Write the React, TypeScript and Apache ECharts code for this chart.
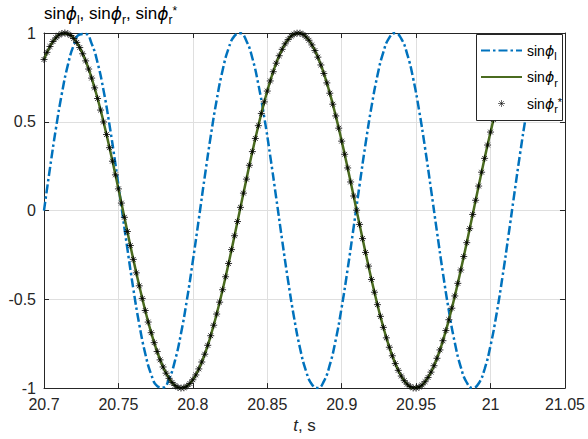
import React, { useEffect, useRef } from "react";
import * as echarts from "echarts";

// Sampling grid (s)
const T0 = 20.7;
const DT_L = 0.004;
const DT_R = 0.004;
const DT_R_STAR = 0.002;

// Axis ranges
const X_MIN = 20.7;
const X_MAX = 21.05;
const X_STEP = 0.05;
const Y_MIN = -1;
const Y_MAX = 1;
const Y_STEP = 0.5;

// sin(phi_l)
const sinPhiL = [
  0, 0.2375, 0.4615, 0.659, 0.8189, 0.9317, 0.9913, 0.9942, 0.9402, 0.8324,
  0.6768, 0.4825, 0.2607, 0.0239, -0.2142, -0.4401, -0.6406, -0.8047, -0.9227, -0.9879,
  -0.9965, -0.9481, -0.8454, -0.6942, -0.5035, -0.2838, -0.048, 0.1907, 0.4183, 0.6221,
  0.7904, 0.9133, 0.9839, 0.9982, 0.9554, 0.858, 0.7112, 0.524, 0.3067, 0.0718,
  -0.1671, -0.3965, -0.603, -0.7752, -0.9032, -0.9793, -0.9994, -0.9622, -0.8697, -0.7278,
  -0.5443, -0.3294, -0.0957, 0.1435, 0.3745, 0.5839, 0.7603, 0.8927, 0.9742, 0.9999,
  0.9685, 0.8815, 0.7444, 0.5643, 0.352, 0.1196, -0.1196, -0.352, -0.5644, -0.7445,
  -0.8815, -0.9685, -0.9999, -0.9741, -0.8926, -0.7601, -0.5837, -0.3743, -0.1433, 0.0958,
  0.3295, 0.5443, 0.728, 0.87,
];

// sin(phi_r)
const sinPhiR = [
  0.851, 0.924, 0.973, 0.997, 0.996, 0.969, 0.918, 0.843, 0.746, 0.631,
  0.499, 0.354, 0.201, 0.042, -0.118, -0.275, -0.424, -0.563, -0.688, -0.794,
  -0.881, -0.945, -0.985, -1.0, -0.989, -0.953, -0.892, -0.809, -0.705, -0.583,
  -0.446, -0.298, -0.142, 0.018, 0.177, 0.332, 0.478, 0.612, 0.73, 0.83,
  0.908, 0.963, 0.994, 0.999, 0.978, 0.933, 0.864, 0.772, 0.661, 0.533,
  0.391, 0.24, 0.082, -0.078, -0.236, -0.388, -0.53, -0.658, -0.77, -0.862,
  -0.932, -0.978, -0.999, -0.994, -0.964, -0.91, -0.832, -0.733, -0.615, -0.481,
  -0.335, -0.181, -0.022, 0.138, 0.294, 0.442, 0.58, 0.702, 0.807,
];

// sin(phi_r*)
const sinPhiRStar = [
  0.851, 0.891, 0.924, 0.952, 0.973, 0.988, 0.997, 1.0, 0.996, 0.986,
  0.969, 0.947, 0.918, 0.883, 0.843, 0.797, 0.746, 0.691, 0.631, 0.566,
  0.499, 0.428, 0.354, 0.278, 0.201, 0.122, 0.042, -0.038, -0.118, -0.197,
  -0.275, -0.351, -0.424, -0.495, -0.563, -0.628, -0.688, -0.744, -0.794, -0.841,
  -0.881, -0.916, -0.945, -0.968, -0.985, -0.996, -1.0, -0.998, -0.989, -0.974,
  -0.953, -0.926, -0.892, -0.853, -0.809, -0.759, -0.705, -0.646, -0.583, -0.516,
  -0.446, -0.373, -0.298, -0.22, -0.142, -0.062, 0.018, 0.098, 0.177, 0.255,
  0.332, 0.406, 0.478, 0.547, 0.612, 0.673, 0.73, 0.782, 0.83, 0.872,
  0.908, 0.939, 0.963, 0.982, 0.994, 0.999, 0.999, 0.992, 0.978, 0.959,
  0.933, 0.901, 0.864, 0.82, 0.772, 0.719, 0.661, 0.599, 0.533, 0.464,
  0.391, 0.317, 0.24, 0.161, 0.082, 0.002, -0.078, -0.158, -0.236, -0.313,
  -0.388, -0.46, -0.53, -0.596, -0.658, -0.717, -0.77, -0.818, -0.862, -0.9,
  -0.932, -0.958, -0.978, -0.991, -0.999, -1.0, -0.994, -0.982, -0.964, -0.94,
  -0.91, -0.874, -0.832, -0.785, -0.733, -0.676, -0.615, -0.55, -0.481, -0.41,
  -0.335, -0.259, -0.181, -0.102, -0.022, 0.058, 0.138, 0.216, 0.294, 0.369,
  0.442, 0.513, 0.58, 0.643, 0.702, 0.757, 0.807,
];

const NAME_L = "sinφl";
const NAME_R = "sinφr";
const NAME_RS = "sinφr*";

const FONT = "'Liberation Sans', Arial, Helvetica, sans-serif";
const AXIS_COLOR = "#262626";
const GRID_COLOR = "#dfdfdf";
const BLUE = "#0072BD";
const GREEN = "#4a6b1f";

// asterisk marker: vertical, horizontal and two diagonal strokes
const STAR = "path://M5 0L5 10M0 5L10 5M1.6 1.6L8.4 8.4M1.6 8.4L8.4 1.6";

const toPairs = (vals: number[], dt: number) =>
  vals.map((v, i) => [+(T0 + i * dt).toFixed(4), v]);

const richText = (size: number, subSize: number, subPad: number) => {
  const base = { fontFamily: FONT, color: "#000", fontWeight: "normal", verticalAlign: "top" };
  return {
    n: { ...base, fontSize: size, lineHeight: size },
    p: {
      ...base,
      fontSize: size,
      lineHeight: size,
      fontFamily: "'DejaVu Sans', sans-serif",
      fontStyle: "italic",
    },
    s: { ...base, fontSize: subSize, lineHeight: subSize, padding: [subPad, 0, 0, 0] },
    u: { ...base, fontSize: subSize, lineHeight: subSize, padding: [0, 0, 0, 0] },
  };
};

const legendLabel: Record<string, string> = {
  [NAME_L]: "{n|sin}{p|ϕ}{s|l}",
  [NAME_R]: "{n|sin}{p|ϕ}{s|r}",
  [NAME_RS]: "{n|sin}{p|ϕ}{s|r}{u|*}",
};

export default function App() {
  const ref = useRef<HTMLDivElement>(null);

  useEffect(() => {
    if (!ref.current) return;
    const chart = echarts.init(ref.current, undefined, { renderer: "svg" });

    const xBase = {
      type: "value",
      min: X_MIN,
      max: X_MAX,
      interval: X_STEP,
      axisLine: { show: true, onZero: false, lineStyle: { color: AXIS_COLOR, width: 1 } },
      axisTick: { show: true, inside: true, length: 5, lineStyle: { color: AXIS_COLOR } },
    };
    const yBase = {
      type: "value",
      min: Y_MIN,
      max: Y_MAX,
      interval: Y_STEP,
      axisLine: { show: true, onZero: false, lineStyle: { color: AXIS_COLOR, width: 1 } },
      axisTick: { show: true, inside: true, length: 5, lineStyle: { color: AXIS_COLOR } },
    };

    chart.setOption({
      animation: false,
      backgroundColor: "#fff",
      title: {
        text: "{n|sin}{p|ϕ}{s|l}{n|, sin}{p|ϕ}{s|r}{n|, sin}{p|ϕ}{s|r}{u|*}",
        left: 44,
        top: 5,
        padding: 0,
        textStyle: { fontWeight: "normal", rich: richText(17, 12, 9) },
      },
      grid: { left: 44, right: 20, top: 33, bottom: 43, containLabel: false },
      xAxis: [
        {
          ...xBase,
          position: "bottom",
          name: "{i|t}, s",
          nameLocation: "middle",
          nameGap: 23,
          nameTextStyle: {
            fontSize: 17,
            fontFamily: FONT,
            color: AXIS_COLOR,
            rich: {
              i: { fontSize: 17, fontFamily: FONT, fontStyle: "italic", color: AXIS_COLOR },
            },
          },
          axisLabel: {
            show: true,
            fontSize: 16,
            fontFamily: FONT,
            color: AXIS_COLOR,
            margin: 8,
            formatter: (v: number) => String(parseFloat(v.toFixed(2))),
          },
          splitLine: { show: true, lineStyle: { color: GRID_COLOR, width: 1 } },
        },
        {
          ...xBase,
          position: "top",
          axisLabel: { show: false },
          splitLine: { show: false },
        },
      ],
      yAxis: [
        {
          ...yBase,
          position: "left",
          axisLabel: {
            show: true,
            fontSize: 16,
            fontFamily: FONT,
            color: AXIS_COLOR,
            margin: 8,
            formatter: (v: number) => String(parseFloat(v.toFixed(2))),
          },
          splitLine: { show: true, lineStyle: { color: GRID_COLOR, width: 1 } },
        },
        {
          ...yBase,
          position: "right",
          axisLabel: { show: false },
          splitLine: { show: false },
        },
      ],
      legend: {
        orient: "vertical",
        left: 480,
        top: 43.5,
        padding: 0,
        itemWidth: 41,
        itemHeight: 7,
        itemGap: 8.5,
        z: 20,
        data: [
          { name: NAME_L, itemStyle: { opacity: 0 } },
          { name: NAME_R, itemStyle: { opacity: 0 } },
          { name: NAME_RS, itemStyle: { color: "#000", borderColor: "#000", borderWidth: 0.7 } },
        ],
        formatter: (name: string) => legendLabel[name] || name,
        textStyle: { rich: richText(14, 11, 7) },
      },
      graphic: {
        elements: [
          {
            type: "rect",
            z: 15,
            shape: { x: 476.5, y: 34.5, width: 86, height: 86 },
            style: { fill: "#fff", stroke: AXIS_COLOR, lineWidth: 1 },
          },
        ],
      },
      series: [
        {
          name: NAME_L,
          type: "line",
          data: toPairs(sinPhiL, DT_L),
          showSymbol: false,
          symbol: "none",
          smooth: true,
          z: 2,
          lineStyle: { color: BLUE, width: 2.5, type: [9, 3, 2.5, 3] },
          itemStyle: { color: BLUE },
        },
        {
          name: NAME_R,
          type: "line",
          data: toPairs(sinPhiR, DT_R),
          showSymbol: false,
          symbol: "none",
          smooth: true,
          z: 3,
          lineStyle: { color: GREEN, width: 2.5 },
          itemStyle: { color: GREEN },
        },
        {
          name: NAME_RS,
          type: "scatter",
          data: toPairs(sinPhiRStar, DT_R_STAR),
          symbol: STAR,
          symbolSize: 7,
          z: 4,
          itemStyle: { color: "#000", borderColor: "#000", borderWidth: 1 },
        },
      ],
    });

    return () => chart.dispose();
  }, []);

  return (
    <div
      ref={ref}
      style={{ position: "absolute", left: 0, top: 0, width: 588, height: 439 }}
    />
  );
}
